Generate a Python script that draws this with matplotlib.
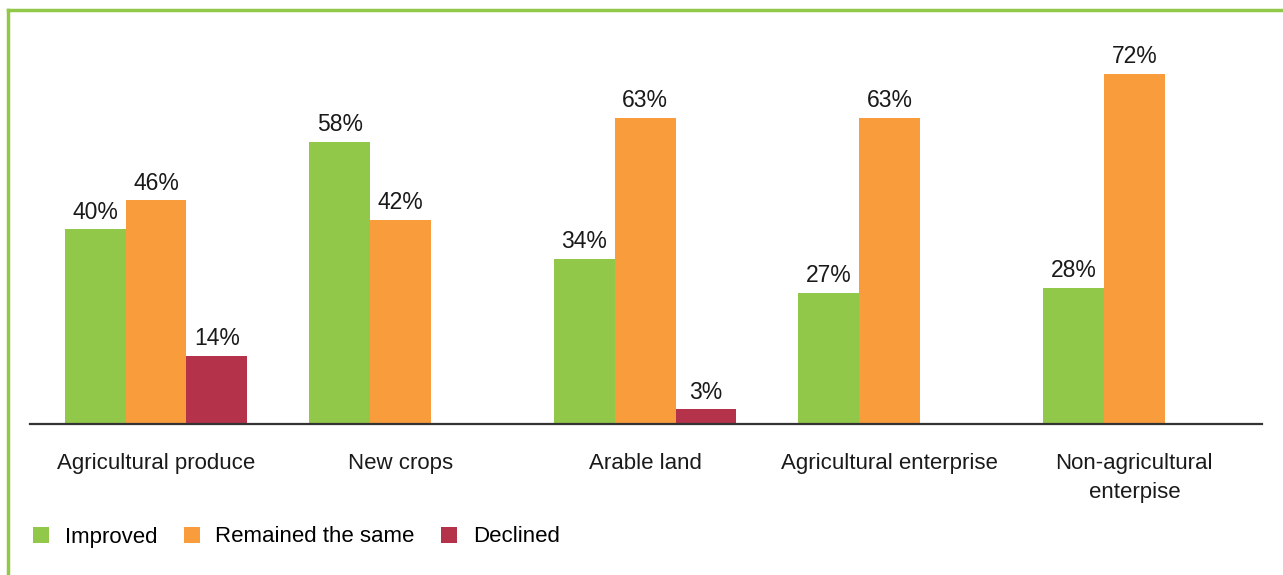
import numpy as np
import matplotlib.pyplot as plt
from matplotlib.patches import Patch
from matplotlib.lines import Line2D

plt.rcParams['font.family'] = ['Liberation Sans', 'DejaVu Sans']

categories = ['Agricultural produce', 'New crops', 'Arable land',
              'Agricultural enterprise', 'Non-agricultural\nenterpise']
improved = [40, 58, 34, 27, 28]
same = [46, 42, 63, 63, 72]
declined = [14, None, 3, None, None]
series_names = ['Improved', 'Remained the same', 'Declined']
colors = ['#92C84A', '#F89C3C', '#B5334A']

FS = 16
fig = plt.figure(figsize=(12.83, 5.75), dpi=100)
ax = fig.add_axes([30 / 1283, 151 / 575, 1232 / 1283, 389 / 575])

x = np.arange(len(categories))
width = 0.249
for i, (vals, col) in enumerate(zip([improved, same, declined], colors)):
    for xi, v in zip(x, vals):
        if v is None:
            continue
        pos = xi + (i - 1) * width
        ax.bar(pos, v, width, color=col, linewidth=0)
        ax.annotate(f'{v}%', (pos, v), xytext=(0, 4), textcoords='offset points',
                    ha='center', va='bottom', fontsize=FS + 0.5, color='#1a1a1a')

ax.set_xlim(-0.515, 4.522)
ax.set_ylim(0, 80)
ax.set_xticks(x)
ax.set_xticklabels(categories, fontsize=FS, color='#1a1a1a', linespacing=1.5)
ax.tick_params(axis='x', length=0, pad=21)
ax.set_yticks([])
for s in ['top', 'right', 'left']:
    ax.spines[s].set_visible(False)
ax.spines['bottom'].set_color('#333333')
ax.spines['bottom'].set_linewidth(1.6)

# green frame along top and left edges
fig.add_artist(Line2D([8 / 1283, 8 / 1283], [0, 1 - 10 / 575], color='#92C84A',
                      linewidth=2.5, transform=fig.transFigure))
fig.add_artist(Line2D([8 / 1283, 1], [1 - 10 / 575, 1 - 10 / 575], color='#92C84A',
                      linewidth=2.5, transform=fig.transFigure))

handles = [Patch(facecolor=c, linewidth=0) for c in colors]
fig.legend(handles, series_names, loc='center left', bbox_to_anchor=(33 / 1283, 1 - 537 / 575),
           ncol=3, frameon=False, fontsize=FS, handlelength=0.72, handleheight=0.72,
           handletextpad=0.7, columnspacing=1.2, borderpad=0, borderaxespad=0)

fig.savefig('out.png', dpi=100)
